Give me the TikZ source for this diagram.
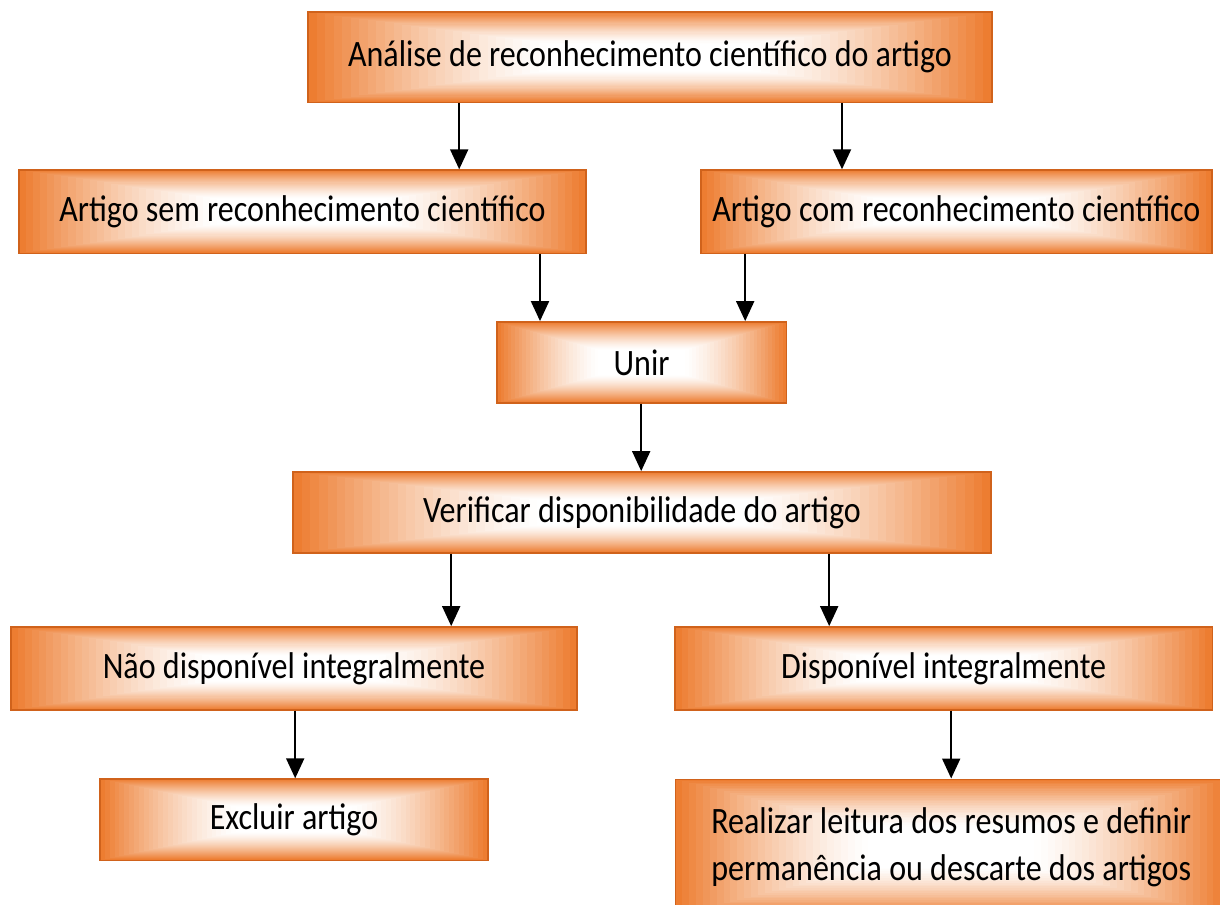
\documentclass[tikz,border=0pt]{standalone}
\usepackage{fontspec}
\setmainfont{Carlito}[FakeStretch=0.86]
\usepackage{tikz}
\usetikzlibrary{arrows.meta,calc}
\usepackage{xcolor}
\definecolor{boxorange}{HTML}{ED7D31}
\definecolor{boxedge}{HTML}{D0621B}

\tikzset{
  orangebox/.style={draw=boxedge, line width=1pt, inner sep=0pt, align=center,
    font=\fontsize{26.5}{34}\selectfont,
    path picture={
      \foreach \k in {0,...,40}{
        \pgfmathsetmacro{\sfac}{1-\k/40}
        \pgfmathsetmacro{\shade}{100*(max(0,(\sfac-0.3)/0.7))^1.4}
        \fill[boxorange!\shade!white]
          ($(path picture bounding box.center)!\sfac!(path picture bounding box.south west)$) rectangle
          ($(path picture bounding box.center)!\sfac!(path picture bounding box.north east)$);
      }
    }},
  arr/.style={-{Triangle[length=0.5cm,width=0.45cm]}, line width=1.4pt, black}
}

\begin{document}
\begin{tikzpicture}
\useasboundingbox (0,0) rectangle (30.5,-22.625);
% --- caixas ---
\node[orangebox, minimum width=17.1cm, minimum height=2.25cm] (analise) at (16.25,-1.43) {Análise de reconhecimento científico do artigo};
\node[orangebox, minimum width=14.18cm, minimum height=2.08cm] (sem) at (7.56,-5.29) {Artigo sem reconhecimento científico};
\node[orangebox, minimum width=12.78cm, minimum height=2.08cm] (com) at (23.91,-5.29) {Artigo com reconhecimento científico};
\node[orangebox, minimum width=7.23cm, minimum height=2.03cm] (unir) at (16.04,-9.06) {Unir};
\node[orangebox, minimum width=17.45cm, minimum height=2.03cm] (verif) at (16.05,-12.81) {Verificar disponibilidade do artigo};
\node[orangebox, minimum width=14.15cm, minimum height=2.08cm] (nao) at (7.35,-16.71) {Não disponível integralmente};
\node[orangebox, minimum width=13.43cm, minimum height=2.08cm] (disp) at (23.59,-16.71) {Disponível integralmente};
\node[orangebox, minimum width=9.7cm, minimum height=2.03cm] (excluir) at (7.35,-20.49) {Excluir artigo};
\node[orangebox, minimum width=13.8cm, minimum height=3.4cm] (leitura) at (23.78,-21.18) {Realizar leitura dos resumos e definir\\permanência ou descarte dos artigos};
% --- setas ---
\draw[arr] (analise.south -| 11.48,0) -- (sem.north -| 11.48,0);
\draw[arr] (analise.south -| 21.05,0) -- (com.north -| 21.05,0);
\draw[arr] (sem.south -| 13.5,0) -- (unir.north -| 13.5,0);
\draw[arr] (com.south -| 18.63,0) -- (unir.north -| 18.63,0);
\draw[arr] (unir.south -| 16.03,0) -- (verif.north -| 16.03,0);
\draw[arr] (verif.south -| 11.28,0) -- (nao.north -| 11.28,0);
\draw[arr] (verif.south -| 20.73,0) -- (disp.north -| 20.73,0);
\draw[arr] (nao.south -| 7.38,0) -- (excluir.north -| 7.38,0);
\draw[arr] (disp.south -| 23.78,0) -- (leitura.north -| 23.78,0);
\end{tikzpicture}
\end{document}
